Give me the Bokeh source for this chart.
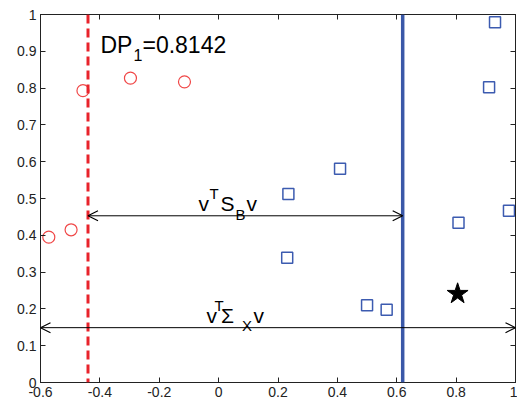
from bokeh.plotting import figure
from bokeh.models import Range1d, FixedTicker, LinearAxis, Arrow, OpenHead, Span
from bokeh.embed import file_html
from bokeh.resources import INLINE
from bokeh.core.properties import value

# ---- data ----
class1_x = [-0.572, -0.497, -0.457, -0.297, -0.115]
class1_y = [0.395, 0.415, 0.793, 0.827, 0.817]
class2_x = [0.231, 0.235, 0.409, 0.500, 0.566, 0.808, 0.911, 0.931, 0.978]
class2_y = [0.339, 0.512, 0.581, 0.210, 0.198, 0.434, 0.802, 0.979, 0.467]
star_x = [0.805]
star_y = [0.241]
threshold_red = -0.44
threshold_blue = 0.62
arrow_sb_y = 0.453
arrow_sx_y = 0.149
dp_text = "=0.8142"

x_ticks = [-0.6, -0.4, -0.2, 0, 0.2, 0.4, 0.6, 0.8, 1]
x_tick_labels = ["-0.6", "-0.4", "-0.2", "0", "0.2", "0.4", "0.6", "0.8", "1"]
y_ticks = [0, 0.1, 0.2, 0.3, 0.4, 0.5, 0.6, 0.7, 0.8, 0.9, 1]
y_tick_labels = ["0", "0.1", "0.2", "0.3", "0.4", "0.5", "0.6", "0.7", "0.8", "0.9", "1"]

FONT = "Liberation Sans"

p = figure(width=517, height=407, output_backend="svg", toolbar_location=None,
           x_range=Range1d(-0.6, 1), y_range=Range1d(0, 1),
           min_border_left=40, min_border_right=2, min_border_top=14, min_border_bottom=25)
p.grid.visible = False
p.outline_line_color = "#222222"
p.background_fill_color = "white"
p.border_fill_color = "white"


def style_axis(ax, ticks, labels, show_labels=True):
    ax.ticker = FixedTicker(ticks=ticks)
    ax.major_label_overrides = dict(zip(ticks, labels))
    ax.major_tick_in = 5
    ax.major_tick_out = 0
    ax.minor_tick_line_color = None
    ax.axis_line_color = "#222222"
    ax.major_tick_line_color = "#222222"
    ax.major_label_text_font = FONT
    ax.major_label_text_color = "#222222"
    if show_labels:
        ax.major_label_text_font_size = "14px"
        ax.major_label_standoff = 4
    else:
        ax.major_label_text_font_size = "0px"
        ax.major_label_standoff = 0


style_axis(p.xaxis[0], x_ticks, x_tick_labels)
style_axis(p.yaxis[0], y_ticks, y_tick_labels)
top = LinearAxis()
style_axis(top, x_ticks, [""] * len(x_ticks), show_labels=False)
p.add_layout(top, "above")
right = LinearAxis()
style_axis(right, y_ticks, [""] * len(y_ticks), show_labels=False)
p.add_layout(right, "right")

# threshold lines
p.add_layout(Span(location=threshold_red, dimension="height", line_color="#e8232b",
                  line_width=3, line_dash="9 5"))
p.add_layout(Span(location=threshold_blue, dimension="height", line_color="#3a58a8",
                  line_width=3.5))

# arrows
p.add_layout(Arrow(start=OpenHead(size=10, line_width=1.2), end=OpenHead(size=10, line_width=1.2),
                   x_start=threshold_red, y_start=arrow_sb_y, x_end=threshold_blue, y_end=arrow_sb_y,
                   line_width=1, line_color="black"))
p.add_layout(Arrow(start=OpenHead(size=10, line_width=1.2), end=OpenHead(size=10, line_width=1.2),
                   x_start=x_ticks[0], y_start=arrow_sx_y, x_end=x_ticks[-1], y_end=arrow_sx_y,
                   line_width=1, line_color="black"))

# markers
p.scatter(class1_x, class1_y, marker="circle", size=12, fill_color=None,
          line_color="#f04848", line_width=1.2)
p.scatter(class2_x, class2_y, marker="square", size=11, fill_color=None,
          line_color="#3c5bb0", line_width=1.5)
p.scatter(star_x, star_y, marker="star", size=22, fill_color="black", line_color="black")


def piece(x, y, s, dx, dy, size):
    p.text(x=[x], y=[y], text=[s], x_offset=dx, y_offset=dy,
           text_font=value(FONT), text_font_size=size, text_color="black",
           text_baseline="alphabetic", text_align="left")


# DP label
dp_x, dp_y = -0.398, 0.916
piece(dp_x, dp_y, "DP", 0, 0, "23px")
piece(dp_x, dp_y, "1", 33, 10, "16px")
piece(dp_x, dp_y, dp_text, 42, 0, "23px")

# v^T S_B v label
sb_x, sb_y = -0.068, 0.486
piece(sb_x, sb_y, "v", 0, 0, "21px")
piece(sb_x, sb_y, "T", 11, -10, "15px")
piece(sb_x, sb_y, "S", 22, 0, "21px")
piece(sb_x, sb_y, "B", 37, 11, "15px")
piece(sb_x, sb_y, "v", 48, 0, "21px")

# v^T Sigma_X v label
sx_x, sx_y = -0.041, 0.182
piece(sx_x, sx_y, "v", 0, 0, "21px")
piece(sx_x, sx_y, "T", 8, -10, "15px")
piece(sx_x, sx_y, "\u03a3", 14.5, 0, "21px")
piece(sx_x, sx_y, "X", 35.5, 10, "15px")
piece(sx_x, sx_y, "v", 47, 0, "21px")

open("out.html", "w").write(file_html(p, INLINE))
